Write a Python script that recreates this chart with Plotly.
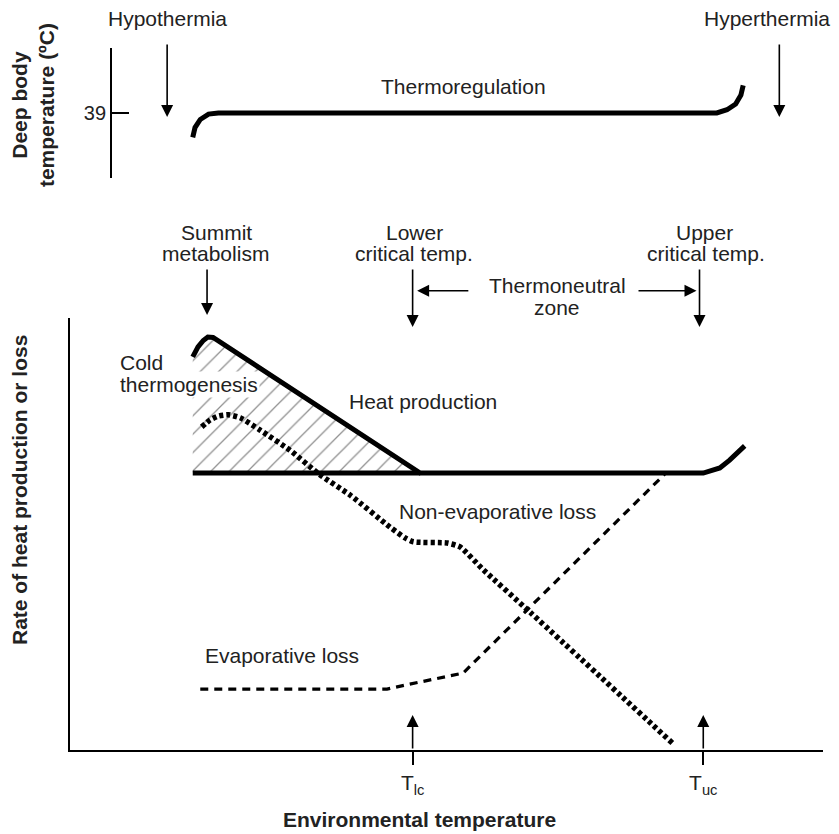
import plotly.graph_objects as go

# Environmental temperature and rate are schematic (arbitrary units, 0-100)
heat_x = [16.3, 17.0, 17.7, 18.3, 19.0, 46.5, 84.1, 86.3, 87.6, 89.6]
heat_y = [91.0, 93.3, 94.8, 95.6, 95.5, 64.1, 64.1, 65.3, 67.1, 70.4]

basal_x = [16.3, 46.5]
basal_y = [64.1, 64.1]

# cold thermogenesis: area between heat production and the basal level
cold_x = [16.3, 16.3, 17.0, 17.7, 18.3, 19.0, 46.5, 16.3]
cold_y = [64.1, 91.0, 93.3, 94.8, 95.6, 95.5, 64.1, 64.1]

nonevap_x = [17.5, 18.6, 19.7, 21.0, 22.6, 25.2, 29.2, 33.2, 37.2, 42.5, 44.5,
             45.6, 50.1, 51.8, 54.9, 61.1, 80.0]
nonevap_y = [74.8, 76.4, 77.3, 77.6, 76.9, 74.1, 69.4, 63.7, 59.0, 51.6, 49.1,
             48.2, 47.9, 47.0, 41.7, 31.9, 1.6]

evap_x = [17.3, 42.1, 45.0, 52.2, 79.0]
evap_y = [14.1, 14.1, 15.2, 17.8, 63.9]

# deep body temperature (degC)
body_x = [16.3, 16.6, 17.3, 18.4, 19.7, 85.9, 87.25, 88.4, 89.1, 89.4]
body_y = [37.5, 38.1, 38.6, 38.93, 39.0, 39.0, 39.2, 39.55, 40.1, 40.7]

# marked temperatures
t_hypo = 12.9
t_hyper = 94.2
t_summit = 18.2
t_lc = 45.5
t_uc = 83.6

FONT = "Liberation Sans, Arial, Helvetica, sans-serif"

fig = go.Figure()

fig.add_trace(go.Scatter(
    x=cold_x, y=cold_y, mode='none', fill='toself', fillcolor='white',
    fillpattern=dict(shape='/', fgcolor='#222', bgcolor='white', size=13, solidity=0.1),
    hoverinfo='skip', showlegend=False
))
fig.add_trace(go.Scatter(
    x=basal_x, y=basal_y, mode='lines', line=dict(color='black', width=5),
    showlegend=False
))
fig.add_trace(go.Scatter(
    x=evap_x, y=evap_y, mode='lines', line=dict(color='black', width=3.2, dash='8px,6px'),
    showlegend=False
))
fig.add_trace(go.Scatter(
    x=nonevap_x, y=nonevap_y, mode='lines', line_shape='spline',
    line=dict(color='black', width=5.5, dash='4px,3px', smoothing=0.6),
    showlegend=False
))
fig.add_trace(go.Scatter(
    x=heat_x, y=heat_y, mode='lines', line=dict(color='black', width=5),
    showlegend=False
))
fig.add_trace(go.Scatter(
    x=body_x, y=body_y, mode='lines',
    line=dict(color='black', width=5),
    xaxis='x', yaxis='y2', showlegend=False
))

font = dict(family=FONT, size=21, color='#222')
annotations = []


def arrow(x, y, ax, ay, yref='y3'):
    annotations.append(dict(
        x=x, y=y, ax=ax, ay=ay, xref='x', yref=yref, axref='x', ayref=yref,
        text='', showarrow=True, arrowhead=2, arrowsize=1.5, arrowwidth=1.6,
        arrowcolor='black', standoff=0
    ))


def label(text, x, y, yref='y3', xanchor='center', bg=None):
    annotations.append(dict(
        x=x, y=y, xref='x', yref=yref, text=text, showarrow=False,
        xanchor=xanchor, yanchor='middle', font=font,
        bgcolor=bg if bg else 'rgba(0,0,0,0)'
    ))


# top panel (y4 = body temperature units over the full plot height)
arrow(t_hypo, 38.75, t_hypo, 43.3, yref='y4')
arrow(t_hyper, 38.75, t_hyper, 43.3, yref='y4')
label('Hypothermia', t_hypo, 44.8, yref='y4')
label('Hyperthermia', t_hyper - 1.6, 44.8, yref='y4')
label('Thermoregulation', 52.3, 40.6, yref='y4')

# bottom panel (y3 = rate units over the full plot height)
label('Summit', 19.5, 119.9)
label('metabolism', 19.3, 115.0)
label('Lower', 45.7, 119.9)
label('critical temp.', 45.7, 115.0)
label('Upper', 84.3, 119.9)
label('critical temp.', 84.5, 115.0)
label('Thermoneutral', 64.7, 107.6)
label('zone', 64.7, 102.5)
arrow(t_summit, 100.7, t_summit, 111.6)
arrow(t_lc, 97.9, t_lc, 111.6)
arrow(t_uc, 97.9, t_uc, 111.6)
arrow(t_lc + 0.6, 106.3, 53.1, 106.3)
arrow(t_uc - 0.4, 106.3, 75.3, 106.3)
arrow(t_lc, 8.1, t_lc, 0)
arrow(t_uc + 0.5, 8.1, t_uc + 0.5, 0)

label('Cold', 6.4, 89.8, xanchor='left')
label('thermogenesis', 6.4, 84.7, xanchor='left', bg='white')
label('Heat production', 36.8, 80.6, xanchor='left')
label('Non-evaporative loss', 43.4, 55.1, xanchor='left')
label('Evaporative loss', 17.7, 21.8, xanchor='left')

# axis titles
title_font = dict(family=FONT, size=21, color='#222')
annotations.append(dict(
    x=0.4648, y=-0.0943, xref='paper', yref='paper', showarrow=False,
    xanchor='center', yanchor='middle',
    text='<b>Environmental temperature</b>', font=title_font
))
annotations.append(dict(
    x=-0.0677, y=0.3504, xref='paper', yref='paper', showarrow=False, textangle=-90,
    xanchor='center', yanchor='middle',
    text='<b>Rate of heat production or loss</b>', font=title_font
))
annotations.append(dict(
    x=-0.049, y=0.8693, xref='paper', yref='paper', showarrow=False, textangle=-90,
    xanchor='center', yanchor='middle',
    text='<b>Deep body<br>temperature (ºC)</b>', font=title_font
))

# the page adds an 8px body margin, so the figure is trimmed to fit without scrollbars
fig.update_layout(
    width=831, height=826,
    margin=dict(l=62, r=16, t=0, b=84),
    plot_bgcolor='rgba(0,0,0,0)', paper_bgcolor='white',
    showlegend=False,
    xaxis=dict(
        range=[0, 100], domain=[0, 1], anchor='y',
        showline=True, linecolor='black', linewidth=2,
        ticks='outside', ticklen=13, tickwidth=1.6, tickcolor='black',
        tickvals=[t_lc, t_uc + 0.5], ticktext=['T<sub>lc</sub>', 'T<sub>uc</sub>'],
        tickfont=dict(family=FONT, size=21, color='#222'),
        showgrid=False, zeroline=False
    ),
    yaxis=dict(
        range=[0, 100], domain=[0, 0.5822],
        showline=True, linecolor='black', linewidth=2,
        showticklabels=False, ticks='', showgrid=False, zeroline=False
    ),
    yaxis2=dict(
        range=[35, 43], domain=[0.7709, 0.9461], anchor='free', position=0.0545,
        showline=True, linecolor='black', linewidth=2,
        ticks='inside', ticklen=17, tickwidth=2, tickcolor='black',
        tickvals=[39], tickfont=dict(family=FONT, size=20, color='#222'),
        showgrid=False, zeroline=False
    ),
    yaxis3=dict(range=[0, 171.76], domain=[0, 1], anchor='x', visible=False),
    yaxis4=dict(range=[-0.2, 45.46], domain=[0, 1], anchor='x', visible=False),
    annotations=annotations
)

fig.write_html("out.html")
